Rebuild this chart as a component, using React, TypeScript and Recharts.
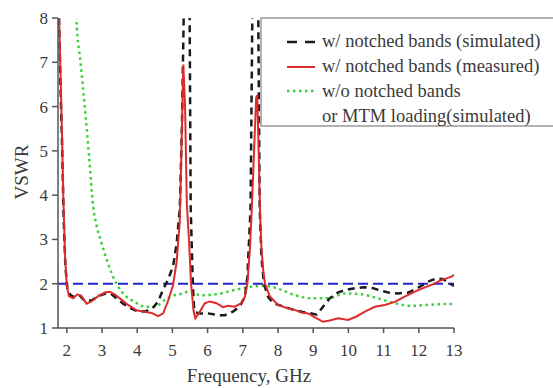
import { LineChart, Line, XAxis, YAxis, ReferenceLine } from "recharts";

// simulated, with notched bands (black dashed)
const simFreq = [1.78, 1.82, 1.87, 1.91, 1.96, 2.02, 2.1, 2.2, 2.35, 2.5, 2.7, 2.9, 3.1, 3.25, 3.41, 3.6, 3.8, 4.03, 4.25, 4.44, 4.6, 4.73, 4.88, 5.02, 5.12, 5.21, 5.27, 5.32, 5.4, 5.49, 5.52, 5.58, 5.62, 5.67, 5.78, 6.01, 6.3, 6.49, 6.72, 6.91, 7.06, 7.13, 7.22, 7.27, 7.35, 7.44, 7.48, 7.53, 7.6, 7.72, 7.86, 8.1, 8.4, 8.7, 8.95, 9.1, 9.28, 9.47, 9.7, 9.9, 10.2, 10.42, 10.7, 10.94, 11.2, 11.41, 11.7, 11.89, 12.12, 12.3, 12.5, 12.7, 12.85, 13.0];
const simVswr = [8.0, 6.5, 5.0, 3.5, 2.4, 1.85, 1.75, 1.7, 1.75, 1.62, 1.62, 1.72, 1.78, 1.78, 1.67, 1.55, 1.45, 1.37, 1.38, 1.45, 1.6, 1.86, 2.1, 2.4, 2.9, 3.7, 5.5, 8.0, 10.0, 8.0, 3.7, 2.0, 1.4, 1.35, 1.33, 1.33, 1.29, 1.29, 1.37, 1.48, 1.71, 2.16, 3.7, 8.0, 10.0, 8.0, 3.7, 2.6, 2.0, 1.7, 1.56, 1.5, 1.42, 1.36, 1.33, 1.3, 1.48, 1.67, 1.8, 1.86, 1.9, 1.92, 1.9, 1.84, 1.79, 1.78, 1.8, 1.87, 1.97, 2.06, 2.12, 2.1, 2.02, 1.95];

// measured, with notched bands (red)
const measFreq = [1.78, 1.82, 1.86, 1.9, 1.95, 2.0, 2.06, 2.18, 2.3, 2.42, 2.56, 2.7, 2.89, 3.08, 3.22, 3.36, 3.55, 3.74, 3.98, 4.17, 4.41, 4.59, 4.74, 4.88, 5.02, 5.12, 5.21, 5.27, 5.31, 5.36, 5.41, 5.47, 5.53, 5.6, 5.65, 5.78, 5.92, 6.06, 6.25, 6.44, 6.58, 6.77, 6.96, 7.06, 7.13, 7.2, 7.25, 7.32, 7.38, 7.41, 7.45, 7.49, 7.53, 7.58, 7.63, 7.77, 8.0, 8.29, 8.48, 8.67, 8.86, 9.05, 9.28, 9.47, 9.71, 9.99, 10.23, 10.47, 10.75, 11.03, 11.32, 11.6, 11.89, 12.12, 12.41, 12.64, 12.93, 13.0];
const measVswr = [8.0, 6.8, 5.5, 4.0, 2.6, 1.95, 1.72, 1.67, 1.76, 1.72, 1.55, 1.6, 1.72, 1.8, 1.82, 1.76, 1.64, 1.52, 1.4, 1.37, 1.34, 1.27, 1.33, 1.62, 1.97, 2.5, 3.4, 5.5, 6.95, 6.0, 3.8, 3.0, 2.0, 1.4, 1.22, 1.37, 1.56, 1.6, 1.56, 1.47, 1.5, 1.48, 1.56, 1.71, 2.0, 2.76, 3.6, 5.0, 6.2, 6.26, 5.0, 3.6, 2.8, 2.3, 2.0, 1.71, 1.52, 1.44, 1.41, 1.35, 1.33, 1.24, 1.14, 1.17, 1.22, 1.18, 1.26, 1.37, 1.48, 1.52, 1.59, 1.71, 1.82, 1.9, 1.99, 2.08, 2.16, 2.2];

// without notched bands or MTM loading (green dotted)
const refFreq = [2.22, 2.27, 2.39, 2.51, 2.63, 2.75, 2.85, 2.99, 3.17, 3.41, 3.65, 3.93, 4.22, 4.5, 4.78, 5.06, 5.3, 5.45, 5.83, 6.3, 6.77, 7.15, 7.63, 8.1, 8.48, 8.95, 9.42, 9.9, 10.37, 10.84, 11.32, 11.79, 12.26, 12.74, 13.0];
const refVswr = [9.0, 8.0, 7.0, 6.0, 4.9, 3.74, 3.3, 2.91, 2.46, 2.0, 1.74, 1.59, 1.48, 1.48, 1.63, 1.74, 1.78, 1.82, 1.74, 1.77, 1.86, 1.92, 1.95, 1.86, 1.74, 1.67, 1.67, 1.78, 1.76, 1.67, 1.56, 1.5, 1.52, 1.54, 1.54];

const xTicks = [2, 2.5, 3, 3.5, 4, 4.5, 5, 5.5, 6, 6.5, 7, 7.5, 8, 8.5, 9, 9.5, 10, 10.5, 11, 11.5, 12, 12.5, 13];
const yTicks = [1, 1.5, 2, 2.5, 3, 3.5, 4, 4.5, 5, 5.5, 6, 6.5, 7, 7.5, 8];

const legendItems = [
  "w/ notched bands (simulated)",
  "w/ notched bands (measured)",
  "w/o notched bands",
  "or MTM loading(simulated)",
];

const toPoints = (f: number[], v: number[]) => f.map((x, i) => ({ f: x, v: v[i] }));

const simData = toPoints(simFreq, simVswr);
const measData = toPoints(measFreq, measVswr);
const refData = toPoints(refFreq, refVswr);

const FONT = '"Liberation Serif", "DejaVu Serif", serif';
const AXIS = "#555";
const TEXT = "#3a3a3a";
const txt = { fontFamily: FONT };

function XTick(props: any) {
  const { x, y, payload } = props;
  const major = Number.isInteger(payload.value);
  return (
    <g>
      <line x1={x} y1={y} x2={x} y2={y + (major ? 5 : 3)} stroke={AXIS} strokeWidth={1.5} />
      {major && (
        <text x={x} y={y + 28} textAnchor="middle" style={txt} fontSize={17} fill={TEXT}>
          {payload.value}
        </text>
      )}
    </g>
  );
}

function YTick(props: any) {
  const { x, y, payload } = props;
  const major = Number.isInteger(payload.value);
  return (
    <g>
      <line x1={x} y1={y} x2={x - (major ? 6 : 3)} y2={y} stroke={AXIS} strokeWidth={1.5} />
      {major && (
        <text x={x - 10} y={y + 6} textAnchor="end" style={txt} fontSize={17} fill={TEXT}>
          {payload.value}
        </text>
      )}
    </g>
  );
}

export default function App() {
  return (
    <div style={{ position: "absolute", left: 0, top: 0, width: 553, height: 388, background: "#fff", fontFamily: FONT }}>
      <LineChart width={553} height={388} margin={{ top: 18, right: 99, bottom: 0, left: 0 }}>
        <XAxis
          type="number"
          dataKey="f"
          domain={[1.75, 13]}
          ticks={xTicks}
          allowDataOverflow
          height={60}
          tickSize={0}
          tickMargin={0}
          tick={<XTick />}
          stroke={AXIS}
          strokeWidth={1.5}
          label={() => (
            <text x={249} y={382} textAnchor="middle" style={txt} fontSize={19} fill={TEXT}>
              Frequency, GHz
            </text>
          )}
        />
        <YAxis
          type="number"
          dataKey="v"
          domain={[1, 8]}
          ticks={yTicks}
          allowDataOverflow
          width={58}
          tickSize={0}
          tickMargin={0}
          tick={<YTick />}
          stroke={AXIS}
          strokeWidth={1.5}
          label={() => (
            <text
              x={21}
              y={172}
              transform="rotate(-90 21 172)"
              textAnchor="middle"
              dominantBaseline="central"
              style={txt}
              fontSize={19}
              fill={TEXT}
            >
              VSWR
            </text>
          )}
        />
        <ReferenceLine y={2} stroke="#2323d0" strokeWidth={2} strokeDasharray="10 5" />
        <Line
          data={refData}
          dataKey="v"
          type="monotone"
          stroke="#3ccf3c"
          strokeWidth={2.5}
          strokeDasharray="2.5 3.5"
          dot={false}
          isAnimationActive={false}
        />
        <Line
          data={simData}
          dataKey="v"
          type="linear"
          stroke="#1a1a1a"
          strokeWidth={2.5}
          strokeDasharray="7 5"
          dot={false}
          isAnimationActive={false}
        />
        <Line
          data={measData}
          dataKey="v"
          type="linear"
          stroke="#dd2a2a"
          strokeWidth={2}
          dot={false}
          isAnimationActive={false}
        />
      </LineChart>
      <svg width={553} height={388} style={{ position: "absolute", left: 0, top: 0, pointerEvents: "none" }}>
        <rect x={261} y={18} width={310} height={108} fill="#fff" stroke="#9a9a9a" strokeWidth={1.5} />
        <line x1={287} y1={42} x2={315} y2={42} stroke="#1a1a1a" strokeWidth={2.5} strokeDasharray="10 8" />
        <line x1={287} y1={67} x2={315} y2={67} stroke="#dd2a2a" strokeWidth={2} />
        <line x1={287} y1={91} x2={315} y2={91} stroke="#3ccf3c" strokeWidth={2.5} strokeDasharray="2.5 3.5" />
        {legendItems.map((t, i) => (
          <text key={t} x={322} y={47 + i * 25} style={txt} fontSize={18.5} fill={TEXT}>
            {t}
          </text>
        ))}
      </svg>
    </div>
  );
}
